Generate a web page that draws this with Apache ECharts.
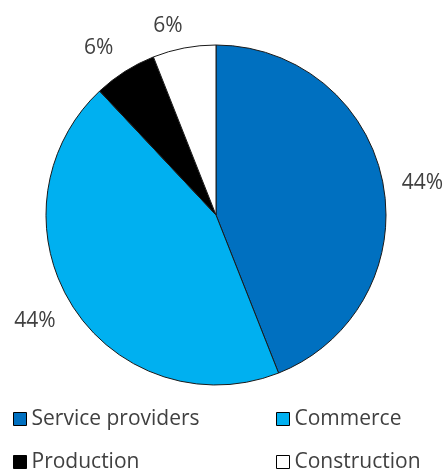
<!DOCTYPE html>
<html>
<head>
<meta charset="utf-8">
<script src="https://cdn.jsdelivr.net/npm/echarts@6/dist/echarts.min.js"></script>
<style>
  html, body { margin: 0; padding: 0; background: #fff; }
  #chart { width: 445px; height: 472px; }
</style>
</head>
<body>
<div id="chart"></div>
<script>
// Share of companies by sector
const categories = ['Service providers', 'Commerce', 'Production', 'Construction'];
const shares = [44, 44, 6, 6];
const colors = ['#0070C0', '#00B0F0', '#000000', '#FFFFFF'];
// small nudges [dx, dy] applied to each percentage label
const labelNudges = [[0, 2], [0, 7], [1, -12], [6, -8]];

const FONT = '"Open Sans", "Noto Sans", sans-serif';
const TEXT = '#404040';

const pieData = categories.map((name, i) => ({
  name,
  value: shares[i],
  itemStyle: { color: colors[i] }
}));

// One legend per entry so the four items sit in a two-column grid
const legendPos = [
  { left: 13, top: 406 },
  { left: 276, top: 406 },
  { left: 13, top: 449 },
  { left: 276, top: 449 }
];
const legends = categories.map((name, i) => ({
  data: [name],
  left: legendPos[i].left,
  top: legendPos[i].top,
  padding: 0,
  orient: 'horizontal',
  icon: 'rect',
  itemWidth: 13,
  itemHeight: 13,
  itemGap: 0,
  selectedMode: false,
  itemStyle: { borderColor: '#000', borderWidth: 1 },
  textStyle: { fontFamily: FONT, fontSize: 21, lineHeight: 26, color: TEXT }
}));

const chart = echarts.init(document.getElementById('chart'), null, { renderer: 'canvas' });
chart.setOption({
  animation: false,
  backgroundColor: '#fff',
  legend: legends,
  series: [{
    type: 'pie',
    center: [216, 215],
    radius: [0, 170],
    startAngle: 90,
    clockwise: true,
    data: pieData,
    itemStyle: { borderColor: '#1a1a1a', borderWidth: 1 },
    label: {
      show: true,
      position: 'outside',
      formatter: '{c}%',
      fontFamily: FONT,
      fontSize: 21,
      color: TEXT,
      overflow: 'none'
    },
    labelLine: { show: false, length: 14, length2: 0 },
    labelLayout: (params) => ({
      dx: labelNudges[params.dataIndex][0],
      dy: labelNudges[params.dataIndex][1]
    }),
    emphasis: { disabled: true }
  }]
});
</script>
</body>
</html>
